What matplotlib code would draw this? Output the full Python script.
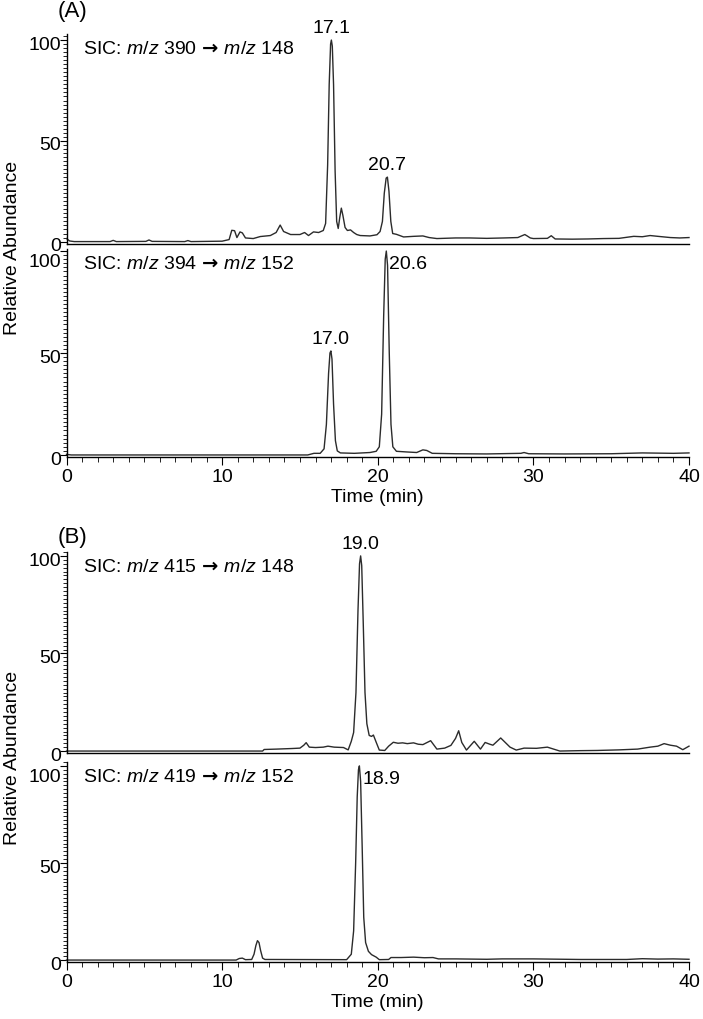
import numpy as np
import matplotlib
matplotlib.use('Agg')
import matplotlib.pyplot as plt
from matplotlib.ticker import MultipleLocator

plt.rcParams['font.family'] = ['Liberation Sans', 'DejaVu Sans']
plt.rcParams['mathtext.fontset'] = 'custom'
plt.rcParams['mathtext.rm'] = 'Liberation Sans'
plt.rcParams['mathtext.it'] = 'Liberation Sans:italic'
plt.rcParams['mathtext.bf'] = 'DejaVu Sans:bold'

# (time in min, relative abundance)
a_top = [(0.0, 1.5), (0.2, 0.3), (0.5, 0.0), (2.8, 0.0), (3.0, 0.6), (3.2, 0.0),
         (5.1, 0.1), (5.3, 0.8), (5.5, 0.1), (7.6, 0.0), (7.8, 0.5), (8.0, 0.0),
         (10.0, 0.2), (10.45, 1.0), (10.62, 5.6), (10.8, 5.4), (10.95, 2.0),
         (11.15, 4.8), (11.3, 4.3), (11.5, 1.8), (12.0, 1.5), (12.45, 2.5),
         (13.1, 3.0), (13.47, 4.5), (13.73, 8.2), (13.95, 5.0), (14.4, 3.5),
         (15.0, 3.5), (15.3, 4.5), (15.55, 3.0), (15.87, 4.8), (16.2, 4.5),
         (16.5, 5.5), (16.65, 9.0), (16.78, 38.0), (16.88, 78.0), (16.97, 98.0),
         (17.02, 100.0), (17.08, 97.0), (17.16, 78.0), (17.26, 35.0), (17.36, 10.0),
         (17.46, 6.5), (17.56, 12.0), (17.66, 16.6), (17.76, 13.0), (17.9, 7.0),
         (18.05, 5.5), (18.25, 5.8), (18.45, 4.5), (18.65, 3.5), (18.87, 3.0),
         (19.5, 2.8), (19.95, 3.4), (20.15, 5.0), (20.3, 10.0), (20.42, 24.0),
         (20.54, 31.5), (20.62, 32.0), (20.72, 25.0), (20.84, 10.0), (20.96, 4.0),
         (21.2, 3.6), (21.66, 2.3), (22.3, 2.6), (22.9, 2.8), (23.3, 2.0),
         (23.8, 1.5), (25.0, 1.8), (25.9, 1.8), (27.0, 1.6), (28.1, 1.8),
         (29.0, 2.0), (29.45, 3.5), (29.6, 2.8), (29.8, 1.8), (30.0, 1.5),
         (30.9, 1.6), (31.15, 2.9), (31.4, 1.3), (32.5, 1.2), (33.5, 1.3),
         (34.5, 1.5), (35.5, 1.6), (36.45, 2.6), (37.0, 2.4), (37.5, 3.0),
         (38.0, 2.6), (38.8, 2.0), (39.4, 1.8), (40.0, 2.0)]

a_bot = [(0.0, 0.3), (0.3, 0.0), (15.5, 0.0), (15.9, 0.8), (16.3, 0.8),
         (16.55, 3.0), (16.7, 15.0), (16.84, 40.0), (16.93, 50.0), (16.99, 51.0),
         (17.06, 47.0), (17.16, 25.0), (17.28, 7.0), (17.4, 2.0), (17.6, 1.0),
         (18.5, 0.8), (19.5, 1.2), (19.9, 1.8), (20.1, 4.0), (20.25, 20.0),
         (20.38, 68.0), (20.48, 96.0), (20.55, 100.0), (20.63, 93.0), (20.74, 50.0),
         (20.85, 15.0), (20.97, 4.0), (21.2, 1.8), (21.8, 1.5), (22.5, 1.2),
         (22.9, 2.5), (23.15, 2.2), (23.5, 0.8), (25.0, 0.6), (27.0, 0.5),
         (29.2, 0.8), (29.4, 1.2), (29.7, 0.6), (32.0, 0.5), (35.0, 0.6),
         (37.0, 1.0), (39.0, 0.8), (40.0, 1.0)]

b_top = [(0.0, 0.0), (12.6, 0.0), (12.7, 0.8), (13.5, 1.0), (14.5, 1.3),
         (15.0, 1.5), (15.25, 3.0), (15.4, 4.3), (15.6, 2.0), (16.0, 1.8),
         (16.5, 2.0), (16.8, 2.5), (17.2, 2.0), (17.8, 1.8), (18.1, 0.6),
         (18.3, 5.0), (18.45, 9.5), (18.6, 30.0), (18.73, 72.0), (18.83, 96.0),
         (18.9, 100.0), (18.97, 95.0), (19.07, 65.0), (19.18, 30.0), (19.3, 14.0),
         (19.45, 8.0), (19.6, 7.5), (19.72, 8.2), (19.9, 4.5), (20.1, 0.5),
         (20.45, 0.3), (20.7, 2.5), (21.0, 4.5), (21.3, 4.0), (21.6, 4.2),
         (21.9, 3.8), (22.3, 4.2), (22.6, 3.5), (22.9, 3.3), (23.2, 4.5),
         (23.4, 5.3), (23.8, 1.0), (24.3, 1.5), (24.7, 2.9), (25.0, 6.5),
         (25.2, 10.4), (25.4, 4.4), (25.7, 0.5), (26.2, 5.0), (26.6, 1.0),
         (26.9, 4.4), (27.2, 3.5), (27.4, 3.0), (27.9, 6.7), (28.5, 2.0),
         (28.9, 0.5), (29.4, 1.5), (30.2, 1.4), (30.9, 2.0), (31.3, 1.0),
         (31.7, 0.0), (33.0, 0.2), (34.1, 0.3), (35.5, 0.6), (36.7, 1.0),
         (37.5, 2.0), (38.0, 2.5), (38.4, 3.8), (38.8, 3.0), (39.2, 2.5),
         (39.6, 0.7), (40.0, 2.5)]

b_bot = [(0.0, 0.0), (10.9, 0.0), (11.1, 0.8), (11.3, 1.0), (11.5, 0.2),
         (11.9, 0.3), (12.05, 3.0), (12.17, 7.5), (12.27, 10.0), (12.37, 9.0),
         (12.47, 5.0), (12.6, 1.0), (12.75, 0.3), (18.0, 0.2), (18.3, 3.0),
         (18.45, 15.0), (18.58, 50.0), (18.68, 84.0), (18.76, 98.0), (18.82, 100.0),
         (18.9, 92.0), (19.0, 58.0), (19.1, 22.0), (19.22, 9.0), (19.4, 4.5),
         (19.6, 2.8), (19.9, 1.5), (20.1, 0.2), (20.7, 0.3), (20.85, 1.3),
         (21.5, 1.3), (22.3, 1.5), (23.0, 1.2), (23.55, 1.3), (23.9, 0.6),
         (25.0, 0.6), (27.0, 0.4), (28.0, 0.6), (30.0, 0.6), (31.0, 0.5),
         (33.0, 0.3), (36.0, 0.3), (37.0, 0.7), (38.0, 0.5), (39.0, 0.6),
         (40.0, 0.4)]

# SIC transitions (precursor, product)
transitions = [(390, 148), (394, 152), (415, 148), (419, 152)]

# peak labels: (time, abundance, label, alignment)
a_top_peaks = [(17.02, 100, "17.1", "center"), (20.62, 32, "20.7", "center")]
a_bot_peaks = [(16.99, 51, "17.0", "center"), (20.55, 100, "20.6", "left")]
b_top_peaks = [(18.9, 100, "19.0", "center")]
b_bot_peaks = [(18.82, 100, "18.9", "left")]

yticks = [0, 50, 100]
xticks = [0, 10, 20, 30, 40]

W, H = 703, 1020
fig = plt.figure(figsize=(W / 100, H / 100), dpi=100)

left = 66.5 / W
width = (689 - 66.5) / W


def make_axes(top_px, bot_px, ylim, bottom_axis):
    ax = fig.add_axes([left, 1 - bot_px / H, width, (bot_px - top_px) / H])
    ax.set_xlim(0, 40)
    ax.set_ylim(*ylim)
    for s in ['top', 'right']:
        ax.spines[s].set_visible(False)
    ax.spines['left'].set_linewidth(1.0)
    ax.spines['bottom'].set_linewidth(1.0)
    ax.set_yticks(yticks)
    ax.yaxis.set_minor_locator(MultipleLocator(2))
    ax.tick_params(axis='y', which='major', length=5, width=0.8, labelleft=False)
    ax.tick_params(axis='y', which='minor', length=3, width=0.6)
    # tick labels sit a little below their ticks, as in the original software
    for v in yticks:
        dy = -3
        if v == 100 and bottom_axis:
            dy = -7.5
        ax.annotate(str(v), xy=(0, v), xycoords=('axes fraction', 'data'),
                    xytext=(-4, dy), textcoords='offset points',
                    ha='right', va='center', fontsize=14)
    if bottom_axis:
        ax.set_xticks(xticks)
        ax.xaxis.set_minor_locator(MultipleLocator(1))
        ax.tick_params(axis='x', which='major', length=6, width=0.8, labelsize=14, pad=2)
        ax.tick_params(axis='x', which='minor', length=3.5, width=0.6)
        ax.set_xlabel("Time (min)", fontsize=14, labelpad=2)
    else:
        ax.set_xticks([])
    return ax


def draw_trace(ax, data, peaks, tr):
    t, y = np.array(data).T
    ax.plot(t, y, color='#2b2b2b', lw=1.0, clip_on=False)
    ax.text(0.027, 0.93,
            r"SIC: $\mathit{m/z}$ %d$\,\mathbf{\rightarrow}\,\mathit{m/z}$ %d" % tr,
            transform=ax.transAxes, fontsize=14, va='center', ha='left')
    for pt, py, lab, ha in peaks:
        if ha == 'left':
            ax.annotate(lab, (pt, py), xytext=(2, -9), textcoords='offset points',
                        ha='left', va='center', fontsize=14)
        else:
            ax.annotate(lab, (pt, py), xytext=(0, 3), textcoords='offset points',
                        ha='center', va='bottom', fontsize=14)


ax1 = make_axes(35, 245, (-1.2, 103), False)
ax2 = make_axes(250, 458, (-1, 101), True)
ax3 = make_axes(553, 754, (-1, 102), False)
ax4 = make_axes(763, 963, (-1, 102), True)

draw_trace(ax1, a_top, a_top_peaks, transitions[0])
draw_trace(ax2, a_bot, a_bot_peaks, transitions[1])
draw_trace(ax3, b_top, b_top_peaks, transitions[2])
draw_trace(ax4, b_bot, b_bot_peaks, transitions[3])

fig.text(58 / W, 1 - 12 / H, "(A)", fontsize=16, va='center', ha='left')
fig.text(58 / W, 1 - 537 / H, "(B)", fontsize=16, va='center', ha='left')
fig.text(13 / W, 1 - 248 / H, "Relative Abundance", rotation=90, fontsize=14,
         va='center', ha='center')
fig.text(13 / W, 1 - 758 / H, "Relative Abundance", rotation=90, fontsize=14,
         va='center', ha='center')

fig.savefig("out.png", dpi=100)
